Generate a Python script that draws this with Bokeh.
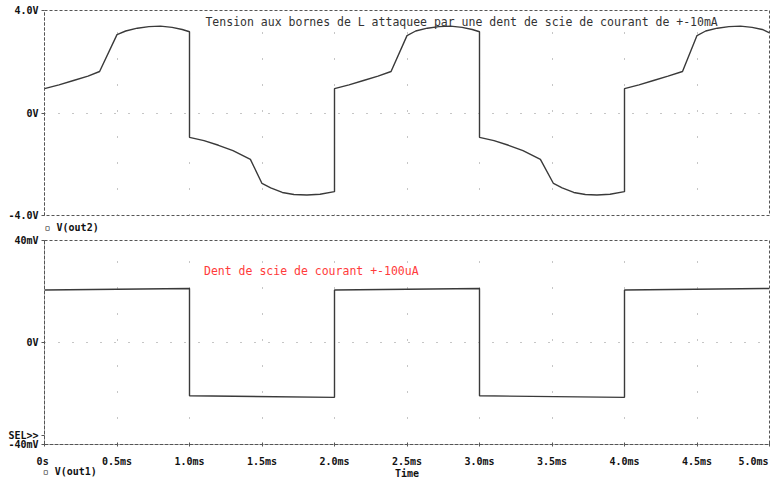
from bokeh.plotting import figure
from bokeh.models import Range1d, FixedTicker, Grid, Title
from bokeh.core.properties import value
from bokeh.layouts import column
from bokeh.embed import file_html
from bokeh.resources import INLINE

NB = "\u00a0"

# Time axis (ms) and its tick labels
x_ticks = [0.0, 0.5, 1.0, 1.5, 2.0, 2.5, 3.0, 3.5, 4.0, 4.5, 5.0]
x_labels = ["0s", "0.5ms", "1.0ms", "1.5ms", "2.0ms", "2.5ms",
            "3.0ms", "3.5ms", "4.0ms", "4.5ms", "5.0ms"]
x_title = "Time"

# V(out2): voltage across L (V)
t_out2 = [0.0, 0.1, 0.2, 0.3, 0.38, 0.5, 0.56, 0.64, 0.72, 0.8, 0.88, 0.95, 1.0,
          1.0, 1.1, 1.2, 1.3, 1.42, 1.5, 1.56, 1.64, 1.72, 1.81, 1.9, 2.0,
          2.0, 2.1, 2.2, 2.3, 2.39, 2.5, 2.56, 2.64, 2.72, 2.8, 2.88, 2.95, 3.0,
          3.0, 3.1, 3.2, 3.3, 3.42, 3.51, 3.57, 3.65, 3.73, 3.81, 3.9, 4.0,
          4.0, 4.1, 4.2, 4.3, 4.4, 4.5, 4.56, 4.64, 4.72, 4.8, 4.88, 4.95, 5.0]
v_out2 = [0.95, 1.10, 1.27, 1.44, 1.62, 3.06, 3.20, 3.31, 3.37, 3.39, 3.34, 3.26, 3.17,
          -0.95, -1.08, -1.26, -1.47, -1.81, -2.75, -2.92, -3.10, -3.18, -3.20, -3.17, -3.07,
          0.95, 1.10, 1.27, 1.44, 1.62, 3.02, 3.20, 3.31, 3.37, 3.39, 3.34, 3.26, 3.17,
          -0.95, -1.08, -1.26, -1.47, -1.81, -2.75, -2.92, -3.10, -3.18, -3.20, -3.17, -3.07,
          0.95, 1.10, 1.27, 1.44, 1.62, 3.02, 3.20, 3.31, 3.37, 3.39, 3.34, 3.26, 3.13]
y2_ticks = [-4.0, 0.0, 4.0]
y2_labels = ["-4.0V", "0V", "4.0V"]
name_out2 = "\u25ab V(out2)"

# V(out1): sawtooth current image (mV)
t_out1 = [0.0, 1.0, 1.0, 2.0, 2.0, 3.0, 3.0, 4.0, 4.0, 5.0]
v_out1 = [20.6, 21.2, -20.9, -21.5, 20.6, 21.2, -20.9, -21.5, 20.6, 21.2]
y1_ticks = [-40.0, 0.0, 40.0]
y1_labels = ["-40mV", "0V", "40mV"]
name_out1 = "\u25ab V(out1)"
sel_tick, sel_text = -36.5, "SEL>>"

title_top = "Tension aux bornes de L attaquee par une dent de scie de courant de +-10mA"
title_bot = "Dent de scie de courant +-100uA"

MONO = "DejaVu Sans Mono"
FRAME = "#555555"
DOTS = "#8c8c8c"
TRACE = "#3a3a3a"


def make_plot(height, top, bottom, yr, yticks, ylabels, with_xaxis):
    p = figure(width=774, height=height, x_range=Range1d(0, 5), y_range=Range1d(*yr),
               output_backend="svg", toolbar_location=None,
               x_axis_location="below" if with_xaxis else None,
               min_border_left=44, min_border_right=5,
               min_border_top=top, min_border_bottom=bottom,
               background_fill_color="white", border_fill_color="white")
    p.outline_line_color = FRAME
    p.outline_line_dash = "3 2"
    p.grid.visible = False

    # dotted grid: vertical at each 0.5 ms, horizontal at 0
    p.add_layout(Grid(dimension=0, ticker=FixedTicker(ticks=x_ticks[1:-1]),
                      grid_line_color=DOTS, grid_line_dash="1 25"))
    p.add_layout(Grid(dimension=1, ticker=FixedTicker(ticks=[0.0]),
                      grid_line_color=DOTS, grid_line_dash="1 13"))

    ya = p.yaxis[0]
    ya.ticker = FixedTicker(ticks=yticks)
    ya.major_label_overrides = dict(zip(yticks, ylabels))
    ya.major_tick_in = 0
    ya.major_tick_out = 3
    ya.major_label_standoff = 3
    axes = [ya]
    if with_xaxis:
        axes.append(p.xaxis[0])
    for a in axes:
        a.axis_line_color = FRAME
        a.axis_line_dash = "3 2"
        a.major_tick_line_color = FRAME
        a.minor_tick_line_color = None
        a.major_label_text_font = MONO
        a.major_label_text_font_style = "bold"
        a.major_label_text_font_size = "10px"
        a.major_label_text_color = "#111111"
    return p


# upper plot: voltage across the inductor
top = make_plot(236, 10, 21, (-4, 4), y2_ticks, y2_labels, False)
top.line(t_out2, v_out2, line_color=TRACE, line_width=1.4)
top.text(x=[1.11], y=[3.57], text=[title_top], text_font=value(MONO),
         text_font_size="11.5px", text_color="#333333", text_baseline="middle")
top.add_layout(Title(text=name_out2, align="left", offset=0, standoff=8,
                     text_font=MONO, text_font_size="10px", text_font_style="bold",
                     text_color="#111111"), "below")

# lower plot: sawtooth current image
bot = make_plot(248, 4, 40, (-40, 40), y1_ticks + [sel_tick],
                y1_labels + [sel_text], True)
bot.line(t_out1, v_out1, line_color=TRACE, line_width=1.4)
bot.text(x=[1.10], y=[28.2], text=[title_bot], text_font=value(MONO),
         text_font_size="11.5px", text_color="#ff3b3b", text_baseline="middle")

# x tick labels; the first one also carries the trace name under it
xa = bot.xaxis[0]
xa.ticker = FixedTicker(ticks=x_ticks)
labels = list(x_labels)
labels[0] = NB * 6 + x_labels[0] + NB * 8 + "\n" + NB * 7 + name_out1
labels[-1] = x_labels[-1] + NB
xa.major_label_overrides = dict(zip(x_ticks, labels))
xa.major_label_text_line_height = 0.95
xa.major_tick_in = 2
xa.major_tick_out = 2
xa.major_label_standoff = 9
xa.axis_label = x_title
xa.axis_label_standoff = -12
xa.axis_label_text_font = MONO
xa.axis_label_text_font_style = "bold"
xa.axis_label_text_font_size = "10px"
xa.axis_label_text_color = "#111111"

layout = column(top, bot, spacing=0)
open("out.html", "w").write(file_html(layout, INLINE))
